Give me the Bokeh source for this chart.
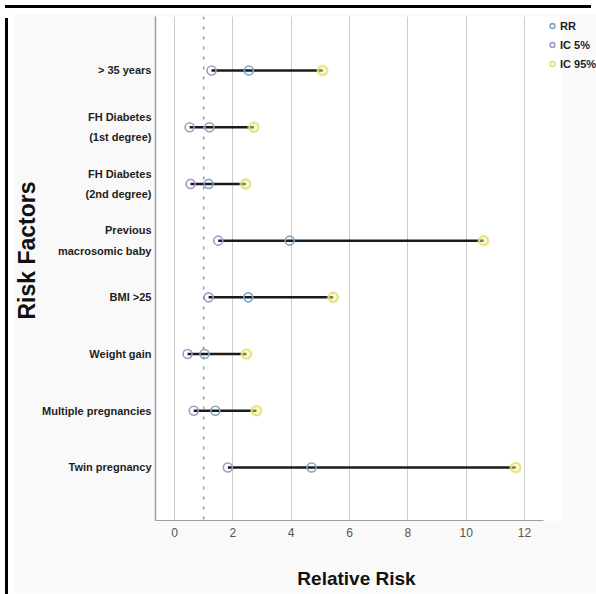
from bokeh.plotting import figure
from bokeh.layouts import column, row
from bokeh.models import (Range1d, FixedTicker, Span, Legend, LegendItem, Label,
                          ColumnDataSource, Div, BoxAnnotation)
from bokeh.embed import file_html
from bokeh.resources import INLINE
import math

factors = ["> 35 years", "FH Diabetes\n(1st degree)", "FH Diabetes\n(2nd degree)",
           "Previous\nmacrosomic baby", "BMI >25", "Weight gain",
           "Multiple pregnancies", "Twin pregnancy"]
rr = [2.55, 1.2, 1.17, 3.95, 2.53, 1.03, 1.4, 4.7]
ic5 = [1.27, 0.52, 0.55, 1.5, 1.17, 0.45, 0.66, 1.83]
ic95 = [5.08, 2.72, 2.44, 10.6, 5.44, 2.47, 2.81, 11.7]
x_ticks = [0, 2, 4, 6, 8, 10, 12]
ref_value = 1

ypos = list(range(len(factors), 0, -1))
src = ColumnDataSource(dict(y=ypos, rr=rr, lo=ic5, hi=ic95))

FONT = "Liberation Sans"
X0, X_AXIS_END, X1 = -0.651, 12.651, 14.469
Y0, Y1 = 0.065, 8.952

p = figure(width=583, height=580, output_backend="svg", toolbar_location=None,
           x_range=Range1d(X0, X1), y_range=Range1d(Y0, Y1),
           min_border_left=142, min_border_top=3, min_border_right=0,
           min_border_bottom=73)
p.background_fill_color = "white"
p.border_fill_color = "#f9f9f9"
p.outline_line_color = None

# light grey strip at the right of the plotting area (legend zone)
p.add_layout(BoxAnnotation(left=13.30, fill_color="#f9f9f9", fill_alpha=1,
                           line_color=None, level="underlay"))

# grid
p.ygrid.grid_line_color = None
p.xgrid.grid_line_color = "#cccccc"
p.xgrid.grid_line_width = 1
p.xaxis.ticker = FixedTicker(ticks=x_ticks)
p.yaxis.ticker = FixedTicker(ticks=ypos)
p.yaxis.major_label_overrides = {y: f for y, f in zip(ypos, factors)}
p.xaxis.bounds = (X0, X_AXIS_END)

for ax in (p.xaxis, p.yaxis):
    ax.major_tick_line_color = None
    ax.minor_tick_line_color = None
    ax.major_tick_out = 0
    ax.major_tick_in = 0
    ax.minor_tick_out = 0
    ax.minor_tick_in = 0
    ax.axis_line_color = "#a0a0a0"
p.yaxis.axis_line_width = 1.5
p.xaxis.axis_line_width = 1

p.yaxis.major_label_text_font = FONT
p.yaxis.major_label_text_font_style = "bold"
p.yaxis.major_label_text_font_size = "11px"
p.yaxis.major_label_text_color = "#1e1e1e"
p.yaxis.major_label_text_line_height = 1.7
p.yaxis.major_label_standoff = 4

p.xaxis.major_label_text_font = FONT
p.xaxis.major_label_text_font_size = "12px"
p.xaxis.major_label_text_color = "#555555"
p.xaxis.major_label_standoff = 7

# axis titles, placed in the side panels at data positions
p.add_layout(Label(x=-5.057, y=4.826, text="Risk Factors", angle=math.pi / 2,
                   text_align="center", text_baseline="middle", text_font=FONT,
                   text_font_style="bold", text_font_size="23px",
                   text_color="#111111"), "left")
p.add_layout(Label(x=6.24, y=-0.957, text="Relative Risk", text_align="center",
                   text_baseline="middle", text_font=FONT, text_font_style="bold",
                   text_font_size="19px", text_color="#111111"), "below")

p.add_layout(Span(location=ref_value, dimension="height", line_color="#a58ab5",
                  line_width=1.5, line_dash="3 7"))

p.segment(x0="lo", y0="y", x1="hi", y1="y", source=src,
          line_color="#1a1a1a", line_width=2.5)

# soft glow around upper markers
p.scatter(x="hi", y="y", source=src, size=13, fill_color="#f2f0a0",
          fill_alpha=0.45, line_color=None)

r_rr = p.scatter(x="rr", y="y", source=src, size=9, fill_color=None,
                 line_color="#7fa6c4", line_width=1.6)
r_lo = p.scatter(x="lo", y="y", source=src, size=9, fill_color=None,
                 line_color="#ac94cc", line_width=1.6)
r_hi = p.scatter(x="hi", y="y", source=src, size=9, fill_color=None,
                 line_color="#e2df72", line_width=1.6)

legend = Legend(items=[LegendItem(label="RR", renderers=[r_rr]),
                       LegendItem(label="IC 5%", renderers=[r_lo]),
                       LegendItem(label="IC 95%", renderers=[r_hi])],
                location=(391, 447), orientation="vertical",
                glyph_width=12, glyph_height=19, spacing=0, padding=0, margin=0,
                label_standoff=2, label_height=19, label_text_font=FONT,
                label_text_font_style="bold", label_text_font_size="11px",
                label_text_color="#1e1e1e", border_line_color=None,
                background_fill_alpha=0)
p.add_layout(legend, "center")

top_bar = Div(text="", width=586, height=3, styles={"background-color": "black"})
left_bar = Div(text="", width=3, height=580, styles={"background-color": "black"})
layout = column(top_bar, row(left_bar, p, spacing=0), spacing=0)

open("out.html", "w").write(file_html(layout, INLINE))
